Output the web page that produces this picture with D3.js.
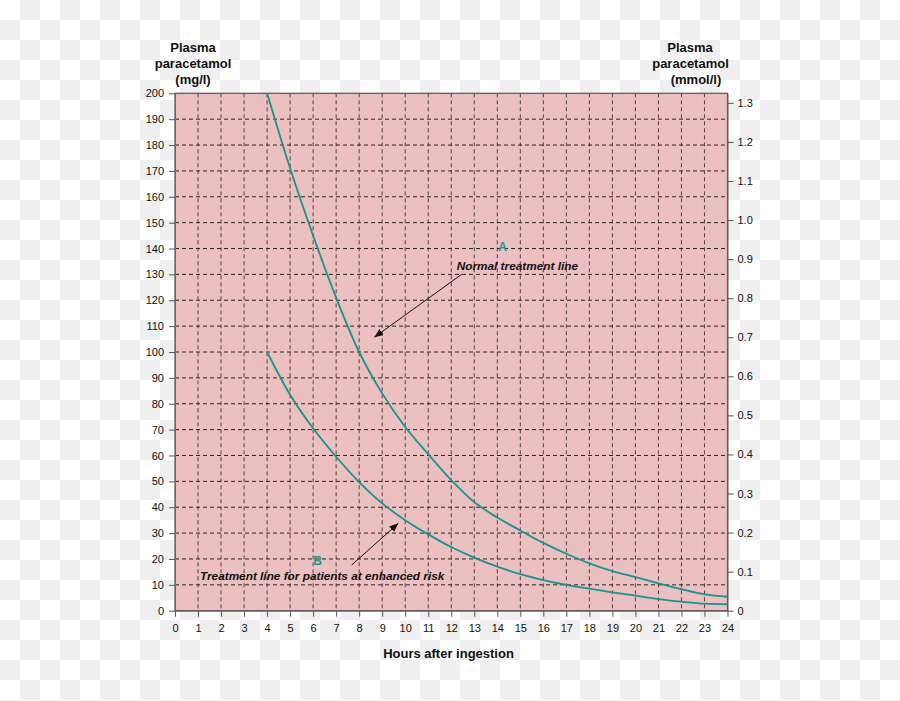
<!DOCTYPE html>
<html><head><meta charset="utf-8">
<script src="https://cdn.jsdelivr.net/npm/d3@7"></script>
<style>body{margin:0;background:#fff}svg{display:block}text{font-family:"Liberation Sans",Arial,Helvetica,sans-serif}</style>
</head><body>
<svg id="c" width="900" height="701"></svg>
<script>
const hours = [4,5,6,7,8,9,10,11,12,13,14,15,16,17,18,19,20,21,22,23,24];
const normalLine = [200,171,145,121,100,84,71,60.5,50.5,42,36,31,26.2,22,18.3,15.3,13,10.6,8.3,6.3,5.4];
const riskLine = [100,83.5,70.5,59.5,49.7,41.5,35,29.5,24.6,20.5,17,14.1,11.8,10,8.5,7.1,5.8,4.5,3.5,2.7,2.5];
const xTicks = d3.range(0,25,1);
const yTicksMg = d3.range(0,201,10);
const yTicksMmol = d3.range(0,14,1).map(d=>d/10);
const mgPerMmol = 151;

const svg = d3.select("#c");
// checkerboard background (transparency pattern)
const cb = svg.append("g");
for (let i=0;i<45;i++) for (let j=0;j<36;j++) if ((i+j)%2===1)
  cb.append("rect").attr("x",i*20).attr("y",j*20).attr("width",20).attr("height",20).attr("fill","#efefef");

const L=175, R=727.5, T=93.3, B=610.7;
const x = d3.scaleLinear().domain([0,24]).range([L,R]);
const y = d3.scaleLinear().domain([0,200]).range([B,T]);
const y2 = d3.scaleLinear().domain([0,200/mgPerMmol]).range([B,T]);

svg.append("rect").attr("x",L).attr("y",T).attr("width",R-L).attr("height",B-T).attr("fill","#ecbfc0");

const grid = svg.append("g").attr("stroke","#2a2224").attr("stroke-width",1).attr("stroke-dasharray","4,3");
xTicks.slice(1,-1).forEach(h=>grid.append("line").attr("x1",x(h)).attr("x2",x(h)).attr("y1",T).attr("y2",B).attr("stroke-opacity",0.8));
yTicksMg.slice(1,-1).forEach(v=>grid.append("line").attr("x1",L).attr("x2",R).attr("y1",y(v)).attr("y2",y(v)));

svg.append("rect").attr("x",L).attr("y",T).attr("width",R-L).attr("height",B-T).attr("fill","none").attr("stroke","#555").attr("stroke-width",1.2);

function styleAxis(g){
  g.selectAll("path").attr("stroke","#666");
  g.selectAll("line").attr("stroke","#555");
  g.selectAll("text").attr("font-size",11).attr("fill","#111").attr("font-family","Liberation Sans, Arial, sans-serif");
}
svg.append("g").attr("transform",`translate(${L},0)`).call(d3.axisLeft(y).tickValues(yTicksMg).tickSize(6).tickPadding(5).tickSizeOuter(0)).call(styleAxis);
svg.append("g").attr("transform",`translate(0,${B})`).call(d3.axisBottom(x).tickValues(xTicks).tickSize(6).tickPadding(8).tickSizeOuter(0)).call(styleAxis);
svg.append("g").attr("transform",`translate(${R},0)`).call(d3.axisRight(y2).tickValues(yTicksMmol).tickFormat(d=>d===0?"0":d3.format(".1f")(d)).tickSize(6).tickPadding(4).tickSizeOuter(0)).call(styleAxis);

const line = d3.line().x(d=>x(d[0])).y(d=>y(d[1])).curve(d3.curveCatmullRom.alpha(0.5));
[normalLine, riskLine].forEach(s=>{
  svg.append("path").datum(hours.map((h,i)=>[h,s[i]])).attr("d",line).attr("fill","none").attr("stroke","#17948f").attr("stroke-width",1.8);
});

// titles
function multi(lines, cx, ys){
  lines.forEach((t,i)=>svg.append("text").attr("x",cx[i]).attr("y",ys[i]).attr("text-anchor","middle").attr("font-size",13).attr("font-weight","bold").attr("fill","#111").text(t));
}
multi(["Plasma","paracetamol","(mg/l)"],[193,193,193],[51.5,68,84]);
multi(["Plasma","paracetamol","(mmol/l)"],[690,690.5,696],[51.5,68,84]);
svg.append("text").attr("x",448.5).attr("y",657.5).attr("text-anchor","middle").attr("font-size",13).attr("font-weight","bold").attr("fill","#111").text("Hours after ingestion");

// annotations
const defs = svg.append("defs");
defs.append("marker").attr("id","ah").attr("viewBox","0 0 10 10").attr("refX",10).attr("refY",5).attr("markerWidth",9).attr("markerHeight",9).attr("markerUnits","userSpaceOnUse").attr("orient","auto")
  .append("path").attr("d","M0,1 L10,5 L0,9 Z").attr("fill","#111");
svg.append("line").attr("x1",461.7).attr("y1",274.3).attr("x2",374.3).attr("y2",337.3).attr("stroke","#111").attr("stroke-width",1).attr("marker-end","url(#ah)");
svg.append("line").attr("x1",351.7).attr("y1",565).attr("x2",398.3).attr("y2",523.3).attr("stroke","#111").attr("stroke-width",1).attr("marker-end","url(#ah)");
svg.append("text").attr("x",502.7).attr("y",251).attr("text-anchor","middle").attr("font-size",12).attr("font-weight","bold").attr("fill","#1d9a8e").text("A");
svg.append("text").attr("x",317.7).attr("y",564.5).attr("text-anchor","middle").attr("font-size",12).attr("font-weight","bold").attr("fill","#1d9a8e").text("B");
svg.append("text").attr("x",456.7).attr("y",269.5).attr("font-size",11.8).attr("font-weight","bold").attr("font-style","italic").attr("fill","#111").text("Normal treatment line");
svg.append("text").attr("x",200).attr("y",579.5).attr("font-size",11.8).attr("font-weight","bold").attr("font-style","italic").attr("fill","#111").text("Treatment line for patients at enhanced risk");
</script>
</body></html>
